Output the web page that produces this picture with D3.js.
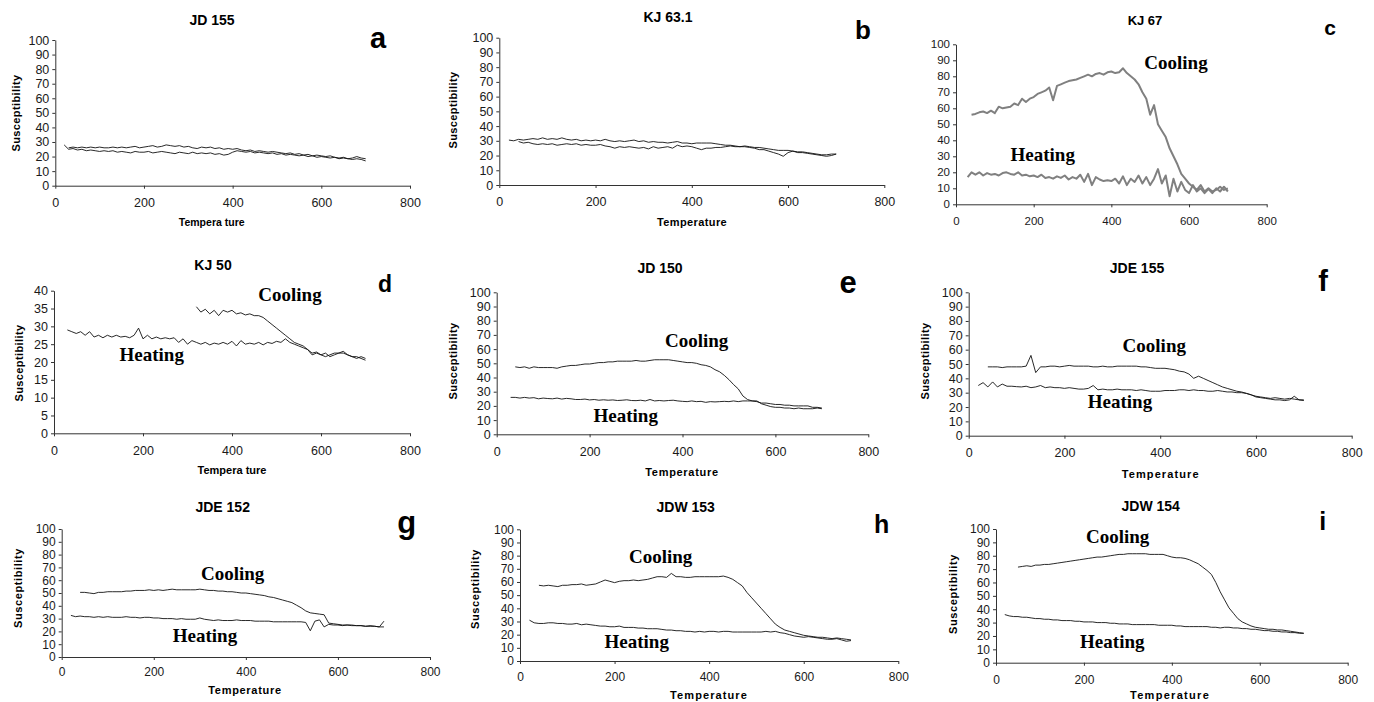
<!DOCTYPE html>
<html>
<head>
<meta charset="utf-8">
<script src="https://cdn.jsdelivr.net/npm/d3@7"></script>
<style>
  html, body { margin: 0; padding: 0; background: #fff; }
  svg { display: block; }
</style>
</head>
<body>
<div id="chart"></div>
<script>
// ── Data ──────────────────────────────────────────────────────────────────────
// temperature grid shared by every curve (°C); null = no reading at that step
const TEMPS = [20,30,40,50,60,70,80,90,100,110,120,130,140,150,160,170,180,190,200,210,
  220,230,240,250,260,270,280,290,300,310,320,330,340,350,360,370,380,390,400,410,
  420,430,440,450,460,470,480,490,500,510,520,530,540,550,560,570,580,590,600,610,
  620,630,640,650,660,670,680,690,700];

const X_TICKS    = [0, 200, 400, 600, 800];
const Y_TICKS    = [0, 10, 20, 30, 40, 50, 60, 70, 80, 90, 100];
const Y_TICKS_40 = [0, 5, 10, 15, 20, 25, 30, 35, 40];

const TITLES  = ["JD 155", "KJ 63.1", "KJ 67", "KJ 50", "JD 150", "JDE 155", "JDE 152", "JDW 153", "JDW 154"];
const LETTERS = ["a", "b", "c", "d", "e", "f", "g", "h", "i"];

// JD 155
const A_HEAT = [28,25,25.5,24.5,25,24,24.5,24,23.5,24,23.5,24,23,23.5,23,22.5,23.5,23,23,23.5,
  22.5,23,23.5,23,22.5,22,23,22.5,22,23,22,22.5,22,22.5,21.5,22,21,21.5,23,24,
  23.5,23,23.5,22.5,23,22.5,22,22.5,21.5,22,21,21.5,21,20.5,21,20,20.5,19.5,20,19.5,
  19,19.5,18.5,19,18.5,18,18.5,18,17];
const A_COOL = [null,26,26.5,26,26.5,26,26.5,26,26.5,26,26,26.5,26,26.5,26,26.5,27,26,26.5,27,
  27.5,26.5,27,28,27.5,27,27.5,26.5,27,26,25.5,26.5,26,26.5,25.5,26,25,25.5,25,25.5,
  24.5,24,24.5,23.5,24,23.5,23,23.5,23,22.5,22,22.5,21.5,22,21,21.5,20.5,21,20.5,20,
  20.5,19.5,19,19.5,18.5,19,20,19,18.5];

// KJ 63.1
const B_HEAT = [30.5,30,31,30.5,31,31.5,31,32,31,31.5,31,32,31,30.5,31,30,30.5,30,30.5,30,
  31,30,29.5,30,29.5,30,30.5,29.5,30,29,29.5,29,29,28.5,29,29.5,28.5,28.5,28,28.5,
  28.5,28.5,28.5,28,27.5,27,27,26.5,26,26.5,26,25.5,25.5,25,24.5,24,23.5,23.5,23.5,23,
  22.5,22.5,22,21.5,21,20.5,20.5,21,21];
const B_COOL = [null,null,29.5,28.5,29,28,27.5,28,27.5,28,27,27.5,28,27.5,28,27,27.5,27,27,27.5,
  26.5,26,25,26,25.5,26,25.5,25,25.5,24.5,26,25,25.5,26,25,27,26,26.5,26,25,
  24,25,25,25.5,25.5,26,26.5,26,26,26,25.5,25,24,24,23,22,21,19.5,22,23,
  22,22,21.5,21,20.5,20,19.5,20,21];

// KJ 67
const C_HEAT = [null,17,20,18.5,20,18,19.5,18.5,19,18,19.5,20,19,18.5,20,18,18.5,17.5,18,17,
  18.5,16.5,17,16,17.5,16.5,18,15.5,17,16,18.5,14,19,12,17,15.5,14.5,15,14.5,16,
  13,17.5,12,16,14,18,13,17,12,16,22,13,18,5,16,8,14,9,7,12,
  8,10,7,9.5,7,10,8,11,8];
const C_COOL = [null,null,56,56.5,57.5,58,57,58.5,57,61,60,60.5,61,63,62,66,64,66,67,69,
  70,71,73,65,74,75,76,77,77.5,78,79,80,81,80,81.5,82,81,82.5,83,82,
  82.5,85,82,80,78,75,70,66,56,62,50,46,42,35,30,25,19,16,13,11,
  9,12,8,10,8,9,11,9,10];

// KJ 50
const D_HEAT = [null,29,28.5,28,28.5,27.5,28.5,27,27.5,26.8,27.5,27,27.5,27,27.2,26.8,27.5,29.5,26.5,27.5,
  26.5,27,26.5,26.8,26.5,26.8,25.5,26.5,25,26,25.5,25,25.5,24.8,25.3,25,25.5,25,25.8,24.5,
  26,25,25.3,25,25.5,24.8,25.5,25.2,25.8,25.5,26.5,25.5,25,24.5,24,23.5,22.5,22.8,22,22.5,
  21.5,22,22.5,22.5,22,21.5,21.5,21,20.5];
const D_COOL = [null,null,null,null,null,null,null,null,null,null,null,null,null,null,null,null,null,null,null,null,
  null,null,null,null,null,null,null,null,null,null,35.5,34,34.8,33.5,34.5,33,34.5,34,34.5,33.5,
  33.8,33.2,33.5,33,33,32.5,31.5,30.5,29.5,28.5,27.5,26.5,25.5,25,24.5,23.5,22,22.5,22,21.5,
  22,22.5,22.5,23,22,21.5,21,21.5,21];

// JD 150
const E_HEAT = [null,26,26,25.5,26,25.5,25.8,25,25.5,25.2,25,25.5,24.8,25.3,25,24.5,24.5,24.8,24.2,24.5,
  24,24.3,24,24.2,23.8,24,24.3,23.8,23.7,24,23.5,24.5,23.5,23.8,23.5,23.8,24,23.5,23.2,23,
  23.5,23,23.2,22.5,23,22.8,23,23.2,23,23.5,23,23.5,23.5,23.5,23,22,22,21.5,21,21,
  20.5,20.5,20,20,20,20,19,19,18.5];
const E_COOL = [null,null,47.5,47,47.5,46.5,47.5,47,47,47,47,46.5,47.5,48,48.5,48.5,49,49.5,49.5,50,
  50.5,50.5,51,51,51.5,51.5,51.5,51.5,52,51.5,51.5,52,52.5,52.5,52.5,52.5,52,51.5,51,50.5,
  50.5,50,49,48.5,47.5,45.5,44,41.5,38.5,35,32,27,24.5,23.5,23.5,21.5,20.5,19.5,19,19,
  18.5,18.5,18,18.5,18,18,18,18.5,18];

// JDE 155
const F_HEAT = [35,37,34,37.5,34,36,34.5,34.5,34.2,34,34.5,33.5,34,35,33.5,34,33.5,33.5,33,33.5,
  33,32.5,32.5,33,35,32,32.5,32,32,32.5,32,32,32,31.5,32,31.5,31,31,31,31.5,
  31.5,31.5,32,32,31.5,32,31.5,31.5,31,31,31.5,31,30.5,30.5,30,30,29.5,28.5,27.5,27,
  26.5,26,26.5,26,25.5,26,25.5,25,25];
const F_COOL = [null,null,48,48,48,47.5,48,48,48,48,48.5,56,44,48,48,48.5,48.5,48,48.5,49,
  48.5,48.5,48.5,48.5,48,48,48.5,48,48,48.5,48.5,48.5,48.5,48.5,48,48,47.5,47,47,47,
  46.5,46,45,44.5,43,40,41.5,40,38.5,37,35.5,34,33,32,31,30.5,29.5,28.5,27,26.5,
  26,25.5,25,25,24.5,25,27.5,25,24.5];

// JDE 152
const G_HEAT = [32.5,31.5,32,31.5,31.5,31,31.5,31,31.5,31,31,31,31.5,31,31,30.5,31,31,30.5,30.5,
  30,30,30,29.5,30,29.5,29.5,29.5,30.5,29.5,29,28.5,29,28.5,28.5,28.5,29,28.5,28.5,28.5,
  28,28,28,28,27.5,27.5,27.5,27.5,27.5,27.5,27.5,27,20.5,28,29,23.5,25.5,25,25,24.5,
  25,24.5,24.5,24.5,24,24,24,23.5,28];
const G_COOL = [null,null,50.5,50.5,50,49.5,50.5,50.5,51,51,51,51,51.5,51.5,52,52,52,52.5,52,52.5,
  52,52.5,53,52.5,52.5,52.5,52.5,52.5,53,52.5,52,52,51.5,51.5,51,51,50.5,50,50,49.5,
  49,48.5,48,47,46.5,45.5,44.5,43.5,42.5,40.5,38.5,36,34.5,34,33.5,33,26.5,26,25.5,25,
  25,25,24.5,24.5,24,24.5,24,23.5,23.5];

// JDW 153
const H_HEAT = [31,29,28.5,28.5,29,29,28.5,28.5,28,28,28.5,27.5,28,27.5,27,26.5,26.5,26,26,26.5,
  25.5,25.5,25.5,25,25,24.5,24.5,24.5,24,23.5,23.5,23,23,22.5,22.5,22,22.5,22,22.5,22.5,
  22,22.5,22.5,22,22,22,22,22,22,22,22.5,22,22.5,21.5,21,20,19,18.5,18,18.5,
  18,17.5,17,16.5,16.5,17,16,15,15.5];
const H_COOL = [null,null,57.5,57,57.5,57,56.5,57.5,57.5,58,58,58.5,57.5,58,58.5,60,61.5,60.5,59.5,60.5,
  61,61,61.5,61,61.5,62,63,64,64,63.5,66.5,64,64,63.5,63.5,64,64,64,64,64,
  64,64.5,63.5,62,59.5,57,52,48,44,40,36,32,28,25.5,23.5,22.5,21.5,20.5,19.5,19,
  18.5,18,18,17.5,17,17.5,17,16.5,16];

// JDW 154
const I_HEAT = [36,35,34.5,34.5,34,34,33.5,33,33,32.5,32.5,32,32,31.5,31.5,31.5,31,31,30.5,30.5,
  30.5,30,30,30,29.5,29.5,29,29,29,28.5,28.5,28.5,28.5,28.5,28.5,28,28,28,28,27.5,
  27.5,27,27,27,27,27,27,26.5,26.5,26,26.5,26.5,26,26,25.5,25.5,25,25,24.5,24,
  24,23.5,23.5,23,23,22.5,22.5,22,22];
const I_COOL = [null,null,null,71.5,72,72.5,72,73,73,73.5,73.5,74,74.5,75,75.5,76,76.5,77,77.5,78,
  78.5,79,79,79.5,80,80.5,81,81,81.5,81.5,81.5,81.5,81.5,81,81,81,81,80,79,78.5,
  78.5,78,77,75.5,74,71.5,69,66,60,53,47,41,37,33,30.5,29,27.5,26.5,26,25.5,
  25,25,24.5,24.5,24,23.5,23,22.5,22];

// ── Layout (plot boxes, label anchors; px) ────────────────────────────────────
const PANELS = [
  { heat: A_HEAT, cool: A_COOL, yMax: 100, yTicks: Y_TICKS,
    L: 55.3, R: 410, T: 40, B: 185.7, pad: 9, tickFs: 12.5,
    title: [212, 20, 14], letter: [378, 48.3, 29],
    xt: [211.7, 221.7, "Tempera ture", 10.5, 0], yt: [16, 113, 0.4] },
  { heat: B_HEAT, cool: B_COOL, yMax: 100, yTicks: Y_TICKS,
    L: 499.3, R: 884.3, T: 37.7, B: 185, pad: 9.5, tickFs: 12.5,
    title: [668, 17, 14], letter: [863, 39.3, 26],
    xt: [692, 222, "Temperature", 11, 0.4], yt: [453, 110, 0.4] },
  { heat: C_HEAT, cool: C_COOL, yMax: 100, yTicks: Y_TICKS, gray: true,
    L: 956, R: 1266.7, T: 44.3, B: 204.3, pad: 10, tickFs: 11.5,
    title: [1145, 20, 13], letter: [1330, 35, 21],
    cooling: [1176, 62.7], heating: [1042.7, 154] },
  { heat: D_HEAT, cool: D_COOL, yMax: 40, yTicks: Y_TICKS_40,
    L: 54, R: 410, T: 290.7, B: 433.3, pad: 10, tickFs: 12.5,
    title: [213, 265, 14], letter: [385, 291.7, 23],
    xt: [232, 470, "Tempera ture", 11, 0], yt: [19, 363, 0.4],
    cooling: [290, 294], heating: [151.7, 354] },
  { heat: E_HEAT, cool: E_COOL, yMax: 100, yTicks: Y_TICKS,
    L: 496.7, R: 868.3, T: 292.3, B: 434.3, pad: 9.5, tickFs: 12.5,
    title: [660, 268, 14], letter: [848, 293, 31],
    xt: [682, 471.7, "Temperature", 11, 0.7], yt: [453, 361, 0.4],
    cooling: [696.7, 340], heating: [625.7, 415] },
  { heat: F_HEAT, cool: F_COOL, yMax: 100, yTicks: Y_TICKS,
    L: 968.7, R: 1351.7, T: 292.3, B: 435.7, pad: 9, tickFs: 12.5,
    title: [1137, 268, 14], letter: [1323, 290.7, 29],
    xt: [1160.7, 474, "Temperature", 11, 1.1], yt: [925, 361, 0.4],
    cooling: [1154.3, 345], heating: [1120, 401.7] },
  { heat: G_HEAT, cool: G_COOL, yMax: 100, yTicks: Y_TICKS,
    L: 61.7, R: 430, T: 529, B: 657, pad: 7.5, tickFs: 12,
    title: [222.7, 506.7, 14], letter: [406.7, 532.6, 31],
    xt: [245, 690, "Temperature", 11, 0.7], yt: [18, 588, 0.6],
    cooling: [232.7, 573], heating: [205, 635.7] },
  { heat: H_HEAT, cool: H_COOL, yMax: 100, yTicks: Y_TICKS,
    L: 520, R: 898.3, T: 529.3, B: 661, pad: 8.5, tickFs: 12,
    title: [685.7, 506.7, 14], letter: [881.7, 533.3, 25],
    xt: [709, 695, "Temperature", 11, 1.1], yt: [475, 589, 0.6],
    cooling: [660.7, 556], heating: [636.7, 641.7] },
  { heat: I_HEAT, cool: I_COOL, yMax: 100, yTicks: Y_TICKS,
    L: 996, R: 1347.7, T: 529, B: 662.7, pad: 10, tickFs: 12,
    title: [1150.7, 506, 14], letter: [1322.7, 530, 25],
    xt: [1170, 695, "Temperature", 11, 1.3], yt: [952.7, 594, 0.6],
    cooling: [1117.7, 536.7], heating: [1112.3, 641] },
];

const SANS  = "'Liberation Sans', Arial, sans-serif";
const SERIF = "'Liberation Serif', 'Times New Roman', serif";

// ── SVG ───────────────────────────────────────────────────────────────────────
const svg = d3.select("#chart").append("svg")
  .attr("width", 1374).attr("height", 702);

PANELS.forEach((p, idx) => {
  const g = svg.append("g");

  const x = d3.scaleLinear().domain([0, 800]).range([p.L, p.R]);
  const y = d3.scaleLinear().domain([0, p.yMax]).range([p.B, p.T]);

  // axes
  const xAxis = g.append("g")
    .attr("transform", `translate(0,${p.B})`)
    .call(d3.axisBottom(x).tickValues(X_TICKS).tickFormat(d3.format("d"))
      .tickSize(3).tickSizeOuter(0).tickPadding(p.pad));
  const yAxis = g.append("g")
    .attr("transform", `translate(${p.L},0)`)
    .call(d3.axisLeft(y).tickValues(p.yTicks).tickFormat(d3.format("d"))
      .tickSize(3).tickSizeOuter(0).tickPadding(3));

  [xAxis, yAxis].forEach(a => {
    a.selectAll("path, line").attr("stroke", "#333").attr("stroke-width", 1);
    a.selectAll("text")
      .attr("fill", "#1a1a1a")
      .style("font-family", SANS)
      .style("font-size", p.tickFs + "px");
  });

  // curves
  const line = d3.line()
    .defined(d => d[1] != null)
    .x(d => x(d[0]))
    .y(d => y(d[1]));

  [p.heat, p.cool].forEach(vals => {
    g.append("path")
      .datum(TEMPS.map((t, i) => [t, vals[i]]))
      .attr("fill", "none")
      .attr("stroke", p.gray ? "#808080" : "#111")
      .attr("stroke-width", p.gray ? 2 : 0.9)
      .attr("stroke-linejoin", "round")
      .attr("d", line);
  });

  // panel title + letter
  g.append("text")
    .attr("x", p.title[0]).attr("y", p.title[1])
    .attr("text-anchor", "middle").attr("dominant-baseline", "central")
    .style("font-family", SANS).style("font-weight", "bold")
    .style("font-size", p.title[2] + "px")
    .text(TITLES[idx]);

  g.append("text")
    .attr("x", p.letter[0]).attr("y", p.letter[1])
    .attr("text-anchor", "middle")
    .style("font-family", SANS).style("font-weight", "bold")
    .style("font-size", p.letter[2] + "px")
    .text(LETTERS[idx]);

  // axis titles
  if (p.xt) {
    g.append("text")
      .attr("x", p.xt[0]).attr("y", p.xt[1])
      .attr("text-anchor", "middle").attr("dominant-baseline", "central")
      .style("font-family", SANS).style("font-weight", "bold")
      .style("font-size", p.xt[3] + "px")
      .style("letter-spacing", p.xt[4] + "px")
      .text(p.xt[2]);
  }
  if (p.yt) {
    g.append("text")
      .attr("transform", `translate(${p.yt[0]},${p.yt[1]}) rotate(-90)`)
      .attr("text-anchor", "middle").attr("dominant-baseline", "central")
      .style("font-family", SANS).style("font-weight", "bold")
      .style("font-size", "11px")
      .style("letter-spacing", p.yt[2] + "px")
      .text("Susceptibility");
  }

  // curve labels
  [["cooling", "Cooling"], ["heating", "Heating"]].forEach(([k, label]) => {
    if (!p[k]) return;
    g.append("text")
      .attr("x", p[k][0]).attr("y", p[k][1])
      .attr("text-anchor", "middle").attr("dominant-baseline", "central")
      .style("font-family", SERIF).style("font-weight", "bold")
      .style("font-size", "19px")
      .text(label);
  });
});
</script>
</body>
</html>
